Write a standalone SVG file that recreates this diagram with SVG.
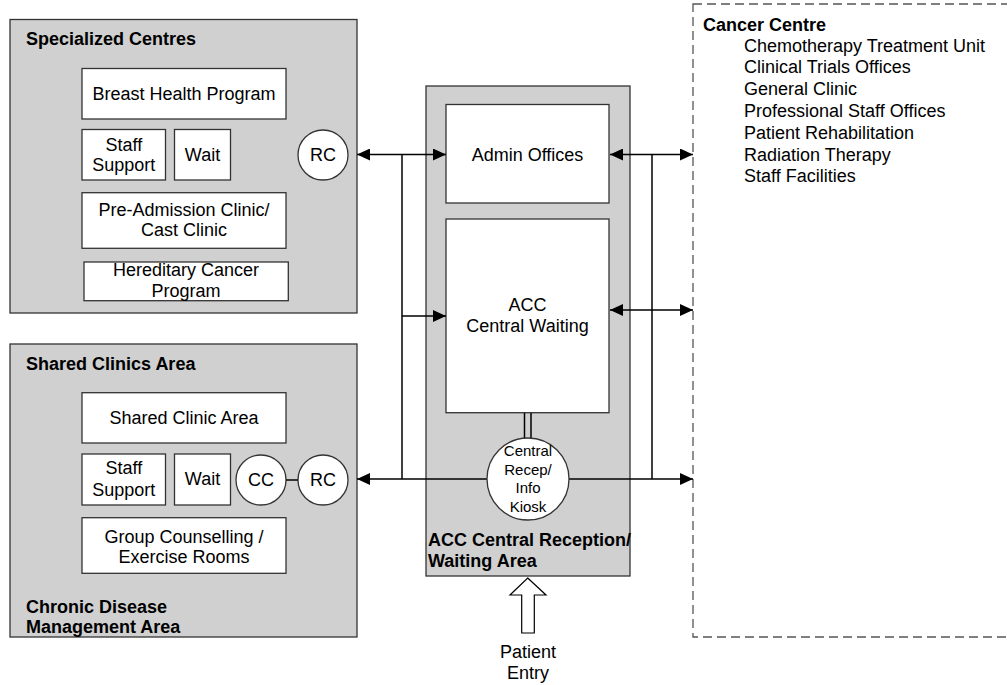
<svg xmlns="http://www.w3.org/2000/svg" width="1007" height="685" viewBox="0 0 1007 685">
<defs>
<style>
.area{fill:#d0d0d0;stroke:#333;stroke-width:1.3}
.room{fill:#fff;stroke:#333;stroke-width:1.3}
.t{font-family:"Liberation Sans",Arial,sans-serif;font-size:18px;fill:#000}
.c{text-anchor:middle}
.b{font-weight:bold}
.s{font-size:15px}
.ln{fill:none;stroke:#000;stroke-width:1.5}
.dash{fill:none;stroke:#555;stroke-width:1.3;stroke-dasharray:9,5}
</style>
<marker id="ah" viewBox="0 0 13 12" refX="13" refY="6" markerWidth="13" markerHeight="12" markerUnits="userSpaceOnUse" orient="auto-start-reverse">
<path d="M0,0 L13,6 L0,12 Z" fill="#000"/>
</marker>
</defs>

<g id="cancer-centre">
<rect class="dash" x="693" y="4" width="330" height="633"/>
<text class="t b" x="703" y="30.5">Cancer Centre</text>
<text class="t" x="744" y="51.5">Chemotherapy Treatment Unit</text>
<text class="t" x="744" y="73.3">Clinical Trials Offices</text>
<text class="t" x="744" y="95.1">General Clinic</text>
<text class="t" x="744" y="116.9">Professional Staff Offices</text>
<text class="t" x="744" y="138.7">Patient Rehabilitation</text>
<text class="t" x="744" y="160.5">Radiation Therapy</text>
<text class="t" x="744" y="182.3">Staff Facilities</text>
</g>

<g id="specialized-centres">
<rect class="area" x="10" y="19.5" width="347" height="293.5"/>
<text class="t b" x="26" y="45.4">Specialized Centres</text>
<g id="breast-health">
<rect class="room" x="82" y="68.5" width="204" height="50.5"/>
<text class="t c" x="184" y="100">Breast Health Program</text>
</g>
<g id="sc-staff-support">
<rect class="room" x="82" y="129.5" width="83.5" height="50.5"/>
<text class="t c" x="123.8" y="150.7">Staff</text>
<text class="t c" x="123.8" y="171.4">Support</text>
</g>
<g id="sc-wait">
<rect class="room" x="174.5" y="129.5" width="56" height="50.5"/>
<text class="t c" x="202.5" y="161.4">Wait</text>
</g>
<g id="pre-admission">
<rect class="room" x="82" y="192.7" width="204" height="55.6"/>
<text class="t c" x="184" y="215.7">Pre-Admission Clinic/</text>
<text class="t c" x="184" y="236.4">Cast Clinic</text>
</g>
<g id="hereditary">
<rect class="room" x="84" y="262" width="204.3" height="38.7"/>
<text class="t c" x="186" y="276.4">Hereditary Cancer</text>
<text class="t c" x="186" y="297.4">Program</text>
</g>
<g id="sc-rc">
<circle class="room" cx="323" cy="155" r="25"/>
<text class="t c" x="323" y="161.4">RC</text>
</g>
</g>

<g id="shared-clinics">
<rect class="area" x="10" y="344" width="347" height="293"/>
<text class="t b" x="26" y="370">Shared Clinics Area</text>
<text class="t b" x="26" y="613">Chronic Disease</text>
<text class="t b" x="26" y="633">Management Area</text>
<g id="shared-clinic-area">
<rect class="room" x="82" y="392.7" width="204" height="50.3"/>
<text class="t c" x="184" y="423.7">Shared Clinic Area</text>
</g>
<g id="sh-staff-support">
<rect class="room" x="82" y="454" width="83.5" height="51"/>
<text class="t c" x="123.8" y="474">Staff</text>
<text class="t c" x="123.8" y="496.4">Support</text>
</g>
<g id="sh-wait">
<rect class="room" x="174.5" y="454" width="56" height="51"/>
<text class="t c" x="202.5" y="485.4">Wait</text>
</g>
<g id="sh-cc">
<circle class="room" cx="261" cy="480" r="25"/>
<text class="t c" x="261" y="486.4">CC</text>
</g>
<g id="sh-rc">
<circle class="room" cx="323" cy="480" r="25"/>
<text class="t c" x="323" y="486.4">RC</text>
</g>
<g id="group-counselling">
<rect class="room" x="82" y="517.7" width="204" height="55.6"/>
<text class="t c" x="184" y="543">Group Counselling /</text>
<text class="t c" x="184" y="563">Exercise Rooms</text>
</g>
</g>

<g id="acc-central">
<rect class="area" x="426" y="86" width="204" height="490"/>
<text class="t b" x="428" y="546.4">ACC Central Reception/</text>
<text class="t b" x="428" y="567.4">Waiting Area</text>
<g id="admin-offices">
<rect class="room" x="446" y="104.5" width="163" height="98.5"/>
<text class="t c" x="527.5" y="160.7">Admin Offices</text>
</g>
<g id="central-waiting">
<rect class="room" x="446" y="219" width="163" height="193.7"/>
<text class="t c" x="527.5" y="311.4">ACC</text>
<text class="t c" x="527.5" y="332">Central Waiting</text>
</g>
</g>

<g id="connectors">
<line class="ln" x1="357" y1="154.5" x2="446" y2="154.5" marker-start="url(#ah)" marker-end="url(#ah)"/>
<line class="ln" x1="402" y1="154.5" x2="402" y2="479"/>
<line class="ln" x1="402" y1="316" x2="446" y2="316" marker-end="url(#ah)"/>
<line class="ln" x1="487" y1="479" x2="357" y2="479" marker-end="url(#ah)"/>
<line class="ln" x1="610" y1="154.5" x2="693" y2="154.5" marker-start="url(#ah)" marker-end="url(#ah)"/>
<line class="ln" x1="610" y1="310" x2="693" y2="310" marker-start="url(#ah)" marker-end="url(#ah)"/>
<line class="ln" x1="652" y1="154.5" x2="652" y2="479"/>
<line class="ln" x1="569" y1="479" x2="693" y2="479" marker-end="url(#ah)"/>
<line class="ln" x1="524.5" y1="413" x2="524.5" y2="440"/>
<line class="ln" x1="531" y1="413" x2="531" y2="440"/>
<line class="ln" x1="286" y1="480" x2="298" y2="480"/>
</g>

<g id="central-recep">
<circle class="room" cx="528" cy="479" r="41"/>
<text class="t c s" x="528" y="456">Central</text>
<text class="t c s" x="528" y="474.6">Recep/</text>
<text class="t c s" x="528" y="493.2">Info</text>
<text class="t c s" x="528" y="511.8">Kiosk</text>
</g>

<g id="patient-entry">
<path d="M527.7,578 L546,595 L534.3,595 L534.3,633 L521.7,633 L521.7,595 L510,595 Z" fill="#fff" stroke="#000" stroke-width="1.2"/>
<text class="t c" x="528" y="657.7">Patient</text>
<text class="t c" x="528" y="679">Entry</text>
</g>
</svg>
